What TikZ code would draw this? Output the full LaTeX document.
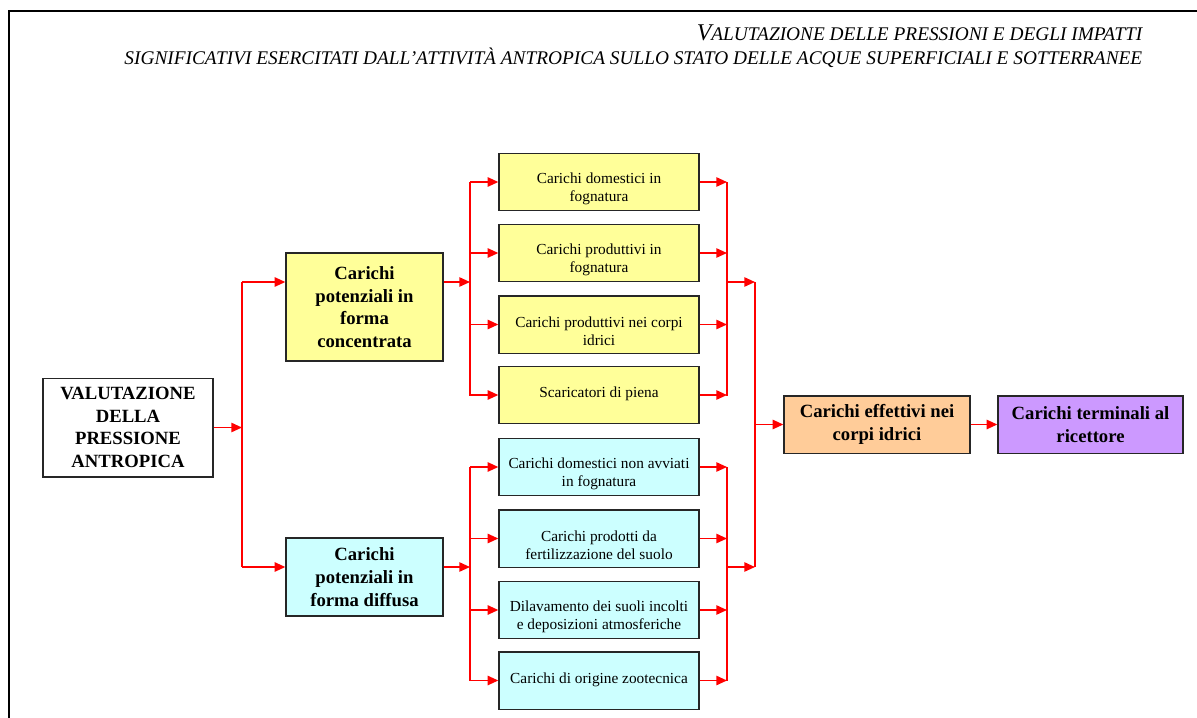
\documentclass[tikz,border=0pt]{standalone}
\usepackage{fontspec}
\setmainfont{Liberation Serif}
\usepackage{tikz}
\usetikzlibrary{arrows.meta,positioning}
\definecolor{boxyellow}{HTML}{FFFF99}
\definecolor{boxcyan}{HTML}{CCFFFF}
\definecolor{boxorange}{HTML}{FFCC99}
\definecolor{boxviolet}{HTML}{CC99FF}
\tikzset{
  box/.style={draw=black!85, line width=1pt, align=center, inner sep=0pt},
  bigbox/.style={box, font=\bfseries\fontsize{14}{17}\selectfont},
  smallbox/.style={box, minimum width=150pt, minimum height=43pt, font=\fontsize{11.5}{13.5}\selectfont,
    text height=31pt},
  wire/.style={red, line width=1.2pt},
  arr/.style={wire, -{Triangle[length=8pt,width=7pt]}}
}

\begin{document}
\begin{tikzpicture}[x=0.75pt, y=-0.75pt]
\useasboundingbox (0,0) rectangle (1197,718);
% Page frame and header
\draw[line width=2pt] (9,718) -- (9,11) -- (1197,11);
\node[anchor=base east, font=\itshape\fontsize{14.5}{16}\selectfont] (head1) at (1147,40)
  {{\fontsize{18}{18}\selectfont V}ALUTAZIONE DELLE PRESSIONI E DEGLI IMPATTI};
\node[anchor=base east, font=\itshape\fontsize{14.5}{16}\selectfont] (head2) at (1147,64)
  {SIGNIFICATIVI ESERCITATI DALL'ATTIVITÀ ANTROPICA SULLO STATO DELLE ACQUE SUPERFICIALI E SOTTERRANEE};

% Main boxes
\node[bigbox, fill=white, minimum width=127.5pt, minimum height=74pt] (val) at (128,427.5)
  {VALUTAZIONE\\DELLA\\PRESSIONE\\ANTROPICA};
\node[bigbox, fill=boxyellow, minimum width=117.75pt, minimum height=81pt] (conc) at (364.5,307)
  {Carichi\\potenziali in\\forma\\concentrata};
\node[bigbox, fill=boxcyan, minimum width=117.75pt, minimum height=58.5pt] (diff) at (364.5,577)
  {Carichi\\potenziali in\\forma diffusa};

% Concentrated loads
\node[smallbox, fill=boxyellow] (dom) at (599,182) {Carichi domestici in\\fognatura};
\node[smallbox, fill=boxyellow] (prodf) at (599,253) {Carichi produttivi in\\fognatura};
\node[smallbox, fill=boxyellow] (prodc) at (599,324.5) {Carichi produttivi nei corpi\\idrici};
\node[smallbox, fill=boxyellow] (scar) at (599,395) {Scaricatori di piena\\\mbox{}};

% Diffuse loads
\node[smallbox, fill=boxcyan] (domn) at (599,467) {Carichi domestici non avviati\\in fognatura};
\node[smallbox, fill=boxcyan] (fert) at (599,538.5) {Carichi prodotti da\\fertilizzazione del suolo};
\node[smallbox, fill=boxcyan] (dilav) at (599,610) {Dilavamento dei suoli incolti\\e deposizioni atmosferiche};
\node[smallbox, fill=boxcyan] (zoot) at (599,680.5) {Carichi di origine zootecnica\\\mbox{}};

% Final boxes
\node[bigbox, fill=boxorange, minimum width=139.5pt, minimum height=43pt] (eff) at (877,424.5)
  {Carichi effettivi nei\\corpi idrici};
\node[bigbox, fill=boxviolet, minimum width=138.75pt, minimum height=43pt] (term) at (1090.5,424.5)
  {Carichi terminali al\\ricettore};

% Split of the pressure
\coordinate (s0) at (242,282);
\coordinate (s1) at (242,567);
\draw[arr] (val.east) -- (val.east -| s0);
\draw[wire] (s0) -- (s1);
\draw[arr] (s0) -- (s0 -| conc.west);
\draw[arr] (s1) -- (s1 -| diff.west);

% Concentrated branch
\coordinate (ca) at (470,182);
\coordinate (cb) at (470,396);
\draw[arr] (conc.east |- s0) -- (ca |- s0);
\draw[wire] (ca) -- (cb);
\draw[arr] (ca |- dom) -- (dom.west);
\draw[arr] (ca |- prodf) -- (prodf.west);
\draw[arr] (ca |- prodc) -- (prodc.west);
\draw[arr] (ca |- scar) -- (scar.west);

% Diffuse branch
\coordinate (da) at (470,467);
\coordinate (db) at (470,681);
\draw[arr] (diff.east |- s1) -- (da |- s1);
\draw[wire] (da) -- (db);
\draw[arr] (da |- domn) -- (domn.west);
\draw[arr] (da |- fert) -- (fert.west);
\draw[arr] (da |- dilav) -- (dilav.west);
\draw[arr] (da |- zoot) -- (zoot.west);

% Collecting lines
\coordinate (ra) at (727,182);
\coordinate (rb) at (727,396);
\coordinate (rc) at (727,467);
\coordinate (rd) at (727,681);
\draw[arr] (dom.east) -- (dom -| ra);
\draw[arr] (prodf.east) -- (prodf -| ra);
\draw[arr] (prodc.east) -- (prodc -| ra);
\draw[arr] (scar.east) -- (scar -| ra);
\draw[wire] (ra) -- (rb);
\draw[arr] (domn.east) -- (domn -| rc);
\draw[arr] (fert.east) -- (fert -| rc);
\draw[arr] (dilav.east) -- (dilav -| rc);
\draw[arr] (zoot.east) -- (zoot -| rc);
\draw[wire] (rc) -- (rd);
\coordinate (m0) at (755,282);
\coordinate (m1) at (755,567);
\draw[arr] (ra |- m0) -- (m0);
\draw[arr] (rc |- m1) -- (m1);
\draw[wire] (m0) -- (m1);
\draw[arr] (m0 |- eff) -- (eff.west);
\draw[arr] (eff.east) -- (term.west);
\end{tikzpicture}
\end{document}
